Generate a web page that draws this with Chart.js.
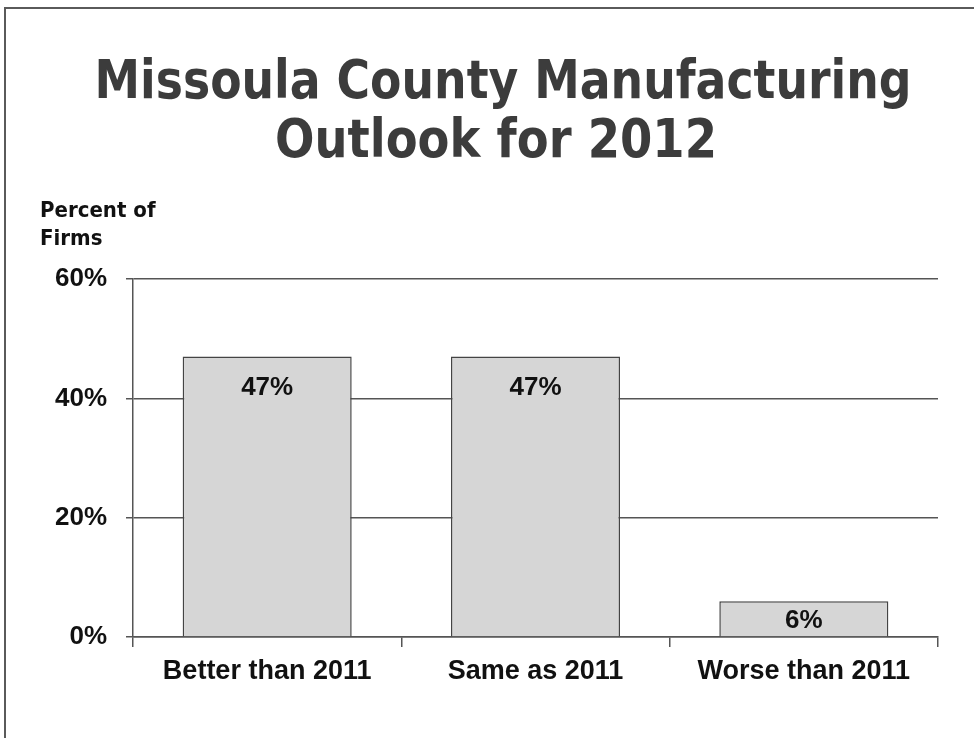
<!DOCTYPE html>
<html>
<head>
<meta charset="utf-8">
<script src="https://cdn.jsdelivr.net/npm/chart.js@4/dist/chart.umd.min.js"></script>
<style>
  body { margin: 0; background: #fff; }
  canvas { display: block; }
</style>
</head>
<body>
<canvas id="chart" width="974" height="738"></canvas>
<script>
// data
const titleLines = ['Missoula County Manufacturing', 'Outlook for 2012'];
const axisTitle = ['Percent of', 'Firms'];
const categories = ['Better than 2011', 'Same as 2011', 'Worse than 2011'];
const percentFirms = [47, 47, 6];
const yTicks = [0, 20, 40, 60];

const lineColor = '#555555';
const textColor = '#111111';

// frame, title and axis caption drawn straight on the canvas
const decorPlugin = {
  id: 'decor',
  beforeDraw(chart) {
    const ctx = chart.ctx;
    ctx.save();
    ctx.fillStyle = '#ffffff';
    ctx.fillRect(0, 0, chart.width, chart.height);
    ctx.strokeStyle = '#5a5a5a';
    ctx.lineWidth = 2;
    ctx.beginPath();
    ctx.moveTo(5, chart.height);
    ctx.lineTo(5, 8);
    ctx.lineTo(chart.width, 8);
    ctx.stroke();

    ctx.fillStyle = '#3c3c3c';
    ctx.textAlign = 'center';
    ctx.textBaseline = 'alphabetic';
    ctx.font = 'bold 54px "DejaVu Sans Condensed", "DejaVu Sans", sans-serif';
    ctx.fillText(titleLines[0], 503, 98, 817);
    ctx.fillText(titleLines[1], 496, 157, 442);

    ctx.fillStyle = textColor;
    ctx.textAlign = 'left';
    ctx.font = 'bold 22px "DejaVu Sans Condensed", "DejaVu Sans", sans-serif';
    ctx.fillText(axisTitle[0], 40, 217);
    ctx.fillText(axisTitle[1], 40, 245);
    ctx.restore();
  },
  afterDatasetsDraw(chart) {
    const ctx = chart.ctx;
    const meta = chart.getDatasetMeta(0);
    ctx.save();
    ctx.fillStyle = textColor;
    ctx.textAlign = 'center';
    ctx.textBaseline = 'middle';
    ctx.font = 'bold 26px "Liberation Sans", Arial, sans-serif';
    meta.data.forEach((bar, i) => {
      const h = bar.base - bar.y;
      const y = bar.y + Math.min(31, h / 2 + 2);
      ctx.fillText(percentFirms[i] + '%', bar.x, y);
    });
    ctx.restore();
  }
};

new Chart(document.getElementById('chart'), {
  type: 'bar',
  data: {
    labels: categories,
    datasets: [{
      data: percentFirms,
      backgroundColor: '#d6d6d6',
      borderColor: '#444444',
      borderWidth: 1.5,
      barPercentage: 0.63,
      categoryPercentage: 1
    }]
  },
  options: {
    responsive: false,
    animation: false,
    layout: { padding: { top: 279, right: 36, bottom: 0, left: 0 } },
    plugins: {
      legend: { display: false },
      title: { display: false },
      tooltip: { enabled: false }
    },
    scales: {
      x: {
        offset: true,
        afterFit(scale) { scale.height = 101; },
        border: { display: true, color: lineColor, width: 1.5 },
        grid: {
          offset: true,
          drawOnChartArea: true,
          color: (c) => (c.index === categories.length ? lineColor : 'rgba(0,0,0,0)'),
          tickColor: lineColor,
          tickLength: 10,
          lineWidth: 1.5
        },
        ticks: {
          color: textColor,
          padding: 8,
          font: { family: '"Liberation Sans", Arial, sans-serif', size: 27, weight: 'bold' }
        }
      },
      y: {
        min: yTicks[0],
        max: yTicks[yTicks.length - 1],
        afterFit(scale) { scale.width = 133; },
        afterBuildTicks(scale) { scale.ticks = yTicks.map(v => ({ value: v })); },
        border: { display: true, color: lineColor, width: 1.5 },
        grid: {
          color: lineColor,
          tickColor: lineColor,
          tickLength: 7,
          lineWidth: 1.5
        },
        ticks: {
          color: textColor,
          padding: 19,
          callback: (v) => v + '%',
          font: { family: '"Liberation Sans", Arial, sans-serif', size: 26, weight: 'bold' }
        }
      }
    }
  },
  plugins: [decorPlugin]
});
</script>
</body>
</html>
